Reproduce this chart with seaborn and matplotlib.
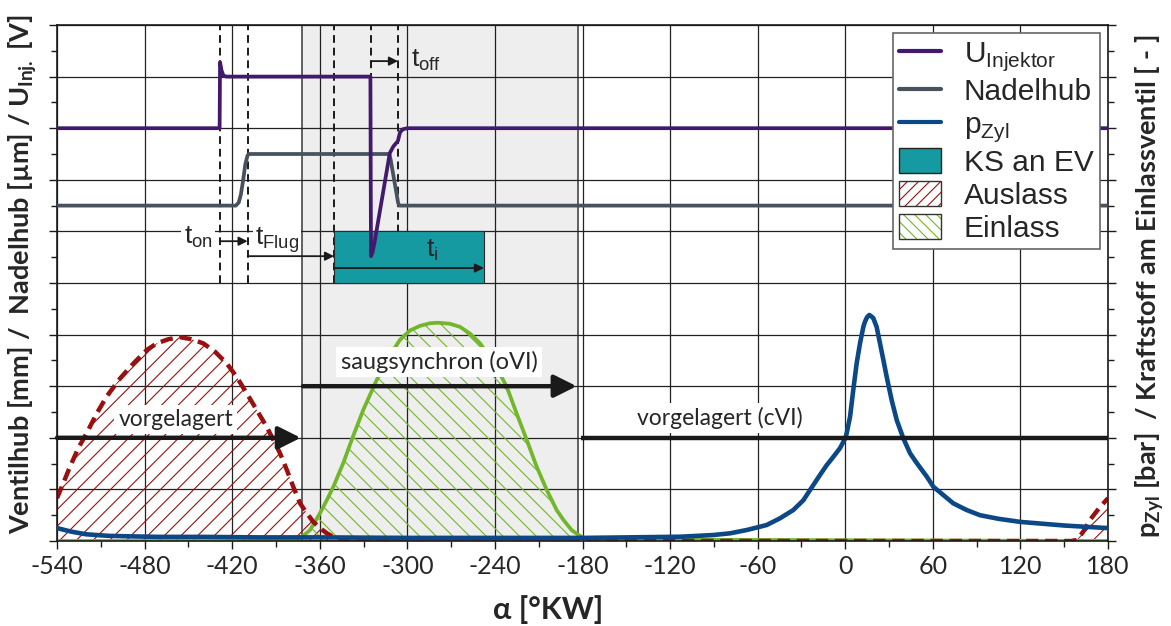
import matplotlib
matplotlib.use("Agg")
import matplotlib.pyplot as plt
import seaborn as sns
from matplotlib.patches import Patch, Rectangle
from matplotlib.lines import Line2D
from matplotlib.legend_handler import HandlerTuple
from matplotlib.ticker import MultipleLocator

u_x = [-540, -428.6, -428.3, -427.3, -426, -424, -325.3, -324.9, -323.8, -322.5,
       -312.0, -309.5, -306.5, -305, -303, -300, 180]
u_y = [8, 8, 9.28, 9.12, 9.02, 9.0, 9.0, 5.52, 5.6, 5.78,
       7.52, 7.65, 7.75, 7.92, 7.98, 8, 8]

n_x = [-540, -417.5, -415.5, -414, -412.5, -411, -409.5, -408.5, -312.5, -311.5,
       -307.5, -306.3, -305.5, 180]
n_y = [6.5, 6.5, 6.56, 6.72, 6.99, 7.3, 7.47, 7.5, 7.5, 7.4,
       6.75, 6.55, 6.5, 6.5]

p_x = [-540, -530, -520, -505, -490, -470, -440, -400, -360, -300, -240, -180, -150,
       -113, -90.4, -78.9, -67.5, -60, -53.8, -44.7, -35.6, -28.7, -24.1, -17.3, -12.7,
       -8.2, -3.6, 0, 1, 3.3, 5.5, 7.8, 10.1, 12.4, 13.5, 15, 16.5, 18, 19.2, 21.5,
       23.8, 26.1, 28.4, 31.8, 35.3, 39.8, 44.4, 49, 55.8, 60.4, 67.2, 74, 83.2, 92.3,
       105, 120, 150, 180]
p_y = [0.25, 0.18, 0.13, 0.10, 0.09, 0.08, 0.08, 0.07, 0.07, 0.06, 0.06, 0.06, 0.07,
       0.083, 0.116, 0.149, 0.213, 0.265, 0.31, 0.44, 0.60, 0.79, 0.99, 1.28, 1.47,
       1.63, 1.80, 1.99, 2.09, 2.41, 2.93, 3.44, 3.83, 4.15, 4.25, 4.34, 4.38, 4.35, 4.32, 4.15,
       3.83, 3.51, 3.18, 2.73, 2.34, 1.99, 1.70, 1.51, 1.25, 1.05, 0.89, 0.73, 0.60, 0.50,
       0.43, 0.37, 0.30, 0.25]

a_x = [-540, -535.7, -531.1, -525.4, -519.7, -512.8, -506, -496.8, -487.7, -478.6,
       -471.7, -463.7, -455.7, -447.7, -439.8, -431.8, -423.7, -416.9, -410, -403.2,
       -396.3, -391.8, -387.2, -382.6, -378.1, -373.5, -368.9, -364.4, -359.8, -355.2,
       -350.7, -343.9, -340, 155, 158.6, 163, 167.7, 174, 180]
a_y = [0.83, 1.12, 1.44, 1.80, 2.09, 2.47, 2.80, 3.15, 3.44, 3.70,
       3.83, 3.91, 3.95, 3.91, 3.83, 3.67, 3.44, 3.18, 2.86, 2.54,
       2.21, 1.96, 1.70, 1.38, 1.05, 0.73, 0.54, 0.37, 0.25, 0.15,
       0.08, 0.03, 0, 0, 0.02, 0.18, 0.41, 0.64, 0.83]

e_x = [-540, -376, -373.5, -366.7, -359.8, -355.2, -350.7, -343.9, -338.1, -330.2,
       -321, -314.1, -305, -298.2, -291.3, -284.5, -278.8, -270.8, -263.9, -257.1,
       -250.2, -241.1, -231.9, -225.1, -218.2, -211.4, -204.5, -197.7, -193.1, -187.4,
       -181.7, -177.1, 180]
e_y = [0, 0, 0.05, 0.21, 0.54, 0.79, 1.05, 1.51, 1.96, 2.54,
       3.12, 3.51, 3.90, 4.08, 4.17, 4.22, 4.23, 4.21, 4.15, 4.02,
       3.83, 3.48, 2.99, 2.47, 1.96, 1.44, 0.99, 0.60, 0.41, 0.21,
       0.10, 0.03, 0]

# Zeitmarken
t_lines = [-428.3, -409.4, -350.2, -325.1, -306.4]
ks_start, ks_end = -350.2, -247.5
einlass_offen = (-372.2, -183.1)
x_ticks = list(range(-540, 181, 60))

c_u = "#43196e"
c_n = "#47525d"
c_p = "#0c4786"
c_a = "#9a1010"
c_e = "#72b62a"
c_ks = "#149aa0"

sns.set_theme(style="white")
plt.rcParams["font.family"] = ["Lato", "DejaVu Sans"]
plt.rcParams["hatch.linewidth"] = 0.8
plt.rcParams["axes.unicode_minus"] = False

fig = plt.figure(figsize=(11.71, 6.26), dpi=100)
ax = fig.add_axes([57 / 1171, 85 / 626, 1051 / 1171, 516 / 626])

ax.axvspan(*einlass_offen, facecolor="#eeeeee", edgecolor="#555555", lw=1.3, zorder=0.2)

# Ventilhübe
ax.fill_between(a_x, a_y, 0, facecolor="none", edgecolor=c_a, hatch="//", lw=0, zorder=1)
ax.fill_between(e_x, e_y, 0, facecolor="none", edgecolor=c_e, hatch="\\\\", lw=0, zorder=1)
sns.lineplot(x=e_x, y=e_y, estimator=None, sort=False, color=c_e, lw=2.7, ax=ax, zorder=2)
sns.lineplot(x=a_x, y=a_y, estimator=None, sort=False, color=c_a, lw=3.2,
             linestyle=(0, (2.8, 1.5)), ax=ax, zorder=2.1)

# Zeitmarken / Kraftstoffpaket
ax.vlines(t_lines, 5, 10, colors="k", linestyles=(0, (4, 2.5)), lw=1.4, zorder=2.5)
ax.add_patch(Rectangle((ks_start, 5), ks_end - ks_start, 1, facecolor=c_ks,
                       edgecolor="#2a2a2a", lw=0.8, zorder=3))

sns.lineplot(x=p_x, y=p_y, estimator=None, sort=False, color=c_p, lw=3.3, ax=ax, zorder=4)
sns.lineplot(x=n_x, y=n_y, estimator=None, sort=False, color=c_n, lw=2.7, ax=ax, zorder=4)
sns.lineplot(x=u_x, y=u_y, estimator=None, sort=False, color=c_u, lw=2.7, ax=ax, zorder=5)

small = dict(arrowstyle="-|>", lw=1.3, color="k", mutation_scale=13, shrinkA=0, shrinkB=0)
big = dict(arrowstyle="-|>", lw=3.2, color="k", mutation_scale=34, shrinkA=0, shrinkB=0)
ax.annotate("", xy=(-409.4, 5.81), xytext=(-428.3, 5.81), arrowprops=small, zorder=6)
ax.annotate("", xy=(-350.2, 5.52), xytext=(-409.4, 5.52), arrowprops=small, zorder=6)
ax.annotate("", xy=(-306.4, 9.30), xytext=(-325.1, 9.30), arrowprops=small, zorder=6)
ax.annotate("", xy=(ks_end, 5.29), xytext=(ks_start, 5.29), arrowprops=small, zorder=6)

ax.annotate("", xy=(-373, 2.0), xytext=(-540, 2.0), arrowprops=big, zorder=6)
ax.annotate("", xy=(-184, 3.0), xytext=(-371.5, 3.0), arrowprops=big, zorder=6)
ax.plot([-181, 180], [2.0, 2.0], color="k", lw=3.2, zorder=6, solid_capstyle="butt")

tfont = dict(family="Liberation Sans", size=19)
wbox = dict(facecolor="white", edgecolor="none", pad=1.5)
ax.text(-443.4, 5.89, "t$_{\\mathregular{on}}$", ha="center", va="center", bbox=wbox, zorder=5.5, **tfont)
ax.text(-389.3, 5.83, "t$_{\\mathregular{Flug}}$", ha="center", va="center", bbox=wbox, zorder=5.5, **tfont)
ax.text(-287.2, 9.32, "t$_{\\mathregular{off}}$", ha="center", va="center", zorder=6, **tfont)
ax.text(-283.0, 5.64, "t$_{\\mathregular{i}}$", ha="center", va="center", zorder=6, **tfont)

lbox = dict(facecolor="white", edgecolor="none", pad=3)
ax.text(-458.5, 2.36, "vorgelagert", ha="center", va="center", fontsize=16.5, bbox=lbox, zorder=5.5)
ax.text(-278.3, 3.47, "saugsynchron (oVI)", ha="center", va="center", fontsize=17, bbox=lbox, zorder=5.5)
ax.text(-85.8, 2.38, "vorgelagert (cVI)", ha="center", va="center", fontsize=16.5, bbox=lbox, zorder=5.5)

# Achsen
ax.set_xlim(-540, 180)
ax.set_ylim(0, 10)
ax.set_xticks(x_ticks)
ax.xaxis.set_minor_locator(MultipleLocator(30))
ax.yaxis.set_major_locator(MultipleLocator(1))
ax.yaxis.set_minor_locator(MultipleLocator(0.5))
ax.set_yticklabels([])
ax.tick_params(axis="both", which="both", direction="out", color="k", left=True,
               right=True, bottom=True, labelsize=18, pad=4)
ax.tick_params(which="major", length=6, width=1)
ax.tick_params(which="minor", length=4, width=1)
ax.set_axisbelow(True)
ax.grid(True, which="major", color="#222222", lw=0.9)
for s in ax.spines.values():
    s.set_color("k")
    s.set_linewidth(1.2)

ax.set_xlabel("α [°KW]", fontsize=22, fontweight="bold", labelpad=4)
ax.xaxis.set_label_coords(0.467, -0.105)
fig.text(0.019, 0.562, "Ventilhub [mm] /  Nadelhub [µm] / U$_{\\mathregular{Inj.}}$ [V]",
         rotation=90, ha="center", va="center", fontsize=19.5, fontweight="bold")
fig.text(0.982, 0.542, "p$_{\\mathregular{Zyl}}$ [bar]  / Kraftstoff am Einlassventil [ - ]",
         rotation=90, ha="center", va="center", fontsize=19.5, fontweight="bold")

handles = [
    Line2D([], [], color=c_u, lw=3),
    Line2D([], [], color=c_n, lw=3),
    Line2D([], [], color=c_p, lw=3),
    Patch(facecolor=c_ks, edgecolor="#222222", lw=1),
    (Patch(facecolor="white", edgecolor=c_a, hatch="///", lw=0),
     Patch(facecolor="none", edgecolor="#333333", lw=1)),
    (Patch(facecolor="white", edgecolor=c_e, hatch="\\\\\\", lw=0),
     Patch(facecolor="none", edgecolor="#333333", lw=1)),
]
labels = ["U$_{\\mathregular{Injektor}}$", "Nadelhub", "p$_{\\mathregular{Zyl}}$",
          "KS an EV", "Auslass", "Einlass"]
leg = ax.legend(handles, labels, loc="upper right", bbox_to_anchor=(0.9924, 0.9845),
                prop=dict(family="Liberation Sans", size=21.5), frameon=True, fancybox=False,
                framealpha=1, edgecolor="#666666", borderpad=0.22, labelspacing=0.14,
                handlelength=1.4, handleheight=0.9, handletextpad=0.75, borderaxespad=0,
                handler_map={tuple: HandlerTuple(ndivide=1, pad=0)})
leg.get_frame().set_linewidth(1.2)
leg.set_zorder(10)

fig.savefig("out.png", dpi=100)
